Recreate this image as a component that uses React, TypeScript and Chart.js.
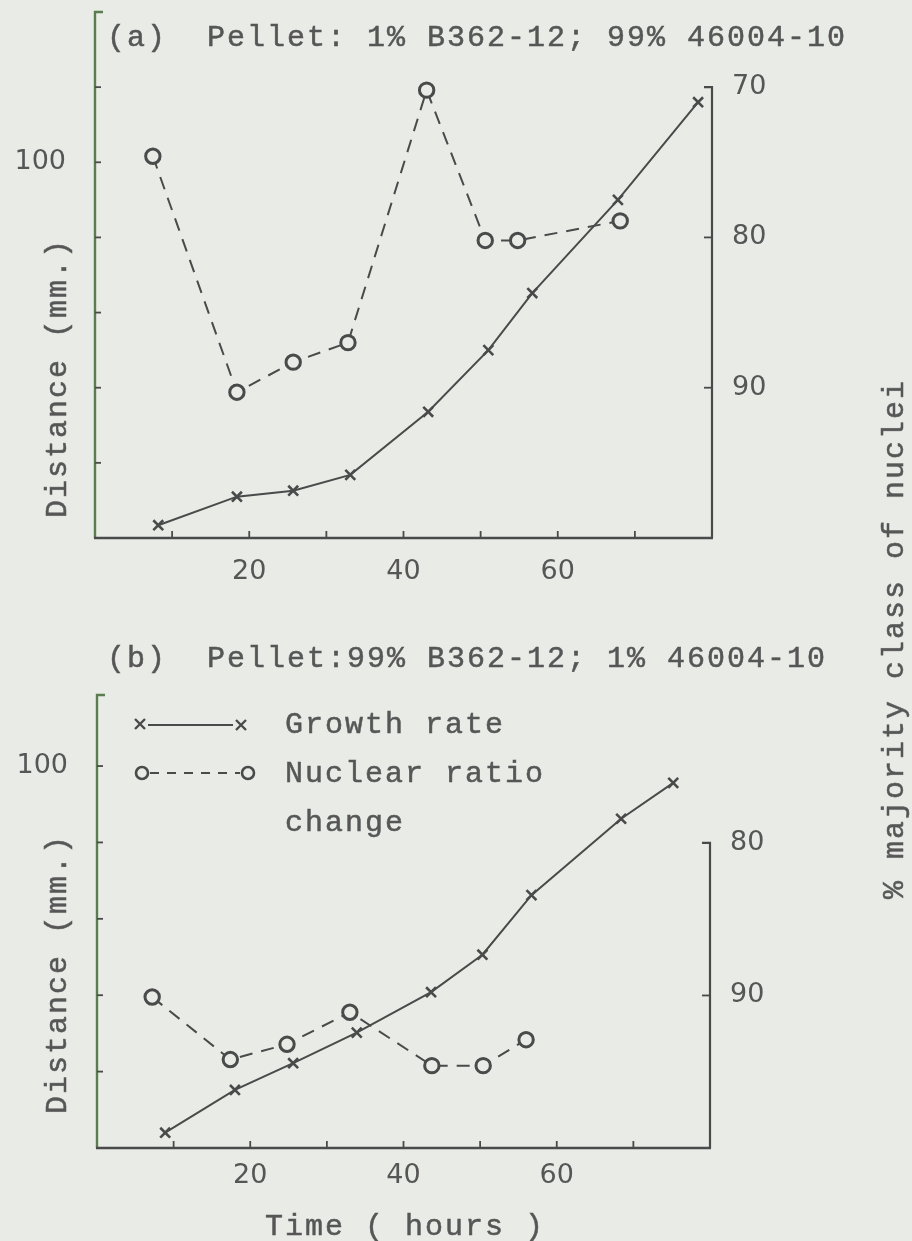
import React, { useEffect, useRef } from 'react';
import { Chart, registerables } from 'chart.js';

Chart.register(...registerables);

// ---- colours & fonts -------------------------------------------------------
const PAPER = '#e9ebe7';
const INK = '#4a4a4a';
const TEXT = '#565656';
const AXIS_GREEN = '#5a7d4f';
const TYPE_FONT = '"Liberation Mono", "DejaVu Sans Mono", monospace';
const TICK_FONT = '"DejaVu Sans", "Open Sans", sans-serif';

// ---- panel (a): pellet 1% B362-12 / 99% 46004-10 ----------------------------
const growthHoursA = [8.2, 18.4, 25.7, 33.1, 43.2, 51.0, 56.7, 67.8, 78.2];
const growthDistA = [51.7, 55.5, 56.3, 58.4, 66.8, 75.0, 82.6, 95.0, 108.0];
const nuclearHoursA = [7.5, 18.4, 25.7, 32.8, 43.0, 50.6, 54.8, 68.1];
const nuclearPctA = [74.6, 90.3, 88.3, 87.0, 70.2, 80.2, 80.2, 78.9];

// ---- panel (b): pellet 99% B362-12 / 1% 46004-10 ----------------------------
const growthHoursB = [8.9, 18.0, 25.6, 33.9, 43.6, 50.3, 56.7, 68.4, 75.2];
const growthDistB = [52.0, 57.6, 61.1, 65.1, 70.4, 75.3, 83.1, 93.1, 97.8];
const nuclearHoursB = [7.2, 17.4, 24.8, 33.0, 43.7, 50.4, 56.0];
const nuclearPctB = [90.1, 94.2, 93.2, 91.1, 94.6, 94.6, 92.9];

// ---- axis ticks ----------------------------------------------------------------
const timeTickLabels = [20, 40, 60];
const timeTickMarks = [10, 20, 30, 40, 50, 60, 70];
const distanceTickLabels = [100];
const distanceTickMarksA = [60, 70, 80, 90, 100, 110];
const distanceTickMarksB = [60, 70, 80, 90, 100];
const pctTickLabelsA = [70, 80, 90];
const pctTickLabelsB = [80, 90];

type PanelCfg = {
  pageTop: number;
  w: number;
  h: number;
  left: number;
  right: number;
  top: number;
  bottom: number;
  distMax: number;
  pctMin: number;
  pctTicks: number[];
  distMarks: number[];
  xPad: number;
  growthHours: number[];
  growthDist: number[];
  nuclearHours: number[];
  nuclearPct: number[];
  legend: boolean;
};

const panelA: PanelCfg = {
  pageTop: 0, w: 912, h: 600,
  left: 95, right: 712, top: 12, bottom: 538,
  distMax: 120, pctMin: 65, pctTicks: pctTickLabelsA, distMarks: distanceTickMarksA,
  xPad: 18,
  growthHours: growthHoursA, growthDist: growthDistA,
  nuclearHours: nuclearHoursA, nuclearPct: nuclearPctA,
  legend: false,
};

const panelB: PanelCfg = {
  pageTop: 600, w: 912, h: 641,
  left: 97, right: 710, top: 95, bottom: 548,
  distMax: 109.3, pctMin: 70.3, pctTicks: pctTickLabelsB, distMarks: distanceTickMarksB,
  xPad: 12,
  growthHours: growthHoursB, growthDist: growthDistB,
  nuclearHours: nuclearHoursB, nuclearPct: nuclearPctB,
  legend: true,
};

function drawCross(ctx: CanvasRenderingContext2D, x: number, y: number, r: number) {
  ctx.beginPath();
  ctx.moveTo(x - r, y - r);
  ctx.lineTo(x + r, y + r);
  ctx.moveTo(x + r, y - r);
  ctx.lineTo(x - r, y + r);
  ctx.stroke();
}

function drawRing(ctx: CanvasRenderingContext2D, x: number, y: number, r: number) {
  ctx.beginPath();
  ctx.arc(x, y, r, 0, Math.PI * 2);
  ctx.fillStyle = PAPER;
  ctx.fill();
  ctx.stroke();
}

// Hand-ruled axes: bracketed left axis, inward tick marks, short right axis.
const paperAxes = {
  id: 'paperAxes',
  beforeDatasetsDraw(chart: any, _args: any, opts: any) {
    const { ctx, chartArea, scales } = chart;
    const { left, right, top, bottom } = chartArea;
    const x = scales.x;
    const yL = scales.yL;
    const yR = scales.yR;
    ctx.save();
    ctx.lineCap = 'butt';

    // left axis with its top bracket
    ctx.strokeStyle = AXIS_GREEN;
    ctx.lineWidth = 2.4;
    ctx.beginPath();
    ctx.moveTo(left + 8, top);
    ctx.lineTo(left, top);
    ctx.lineTo(left, bottom);
    ctx.stroke();

    ctx.strokeStyle = INK;
    ctx.lineWidth = 1.8;
    for (const v of opts.distMarks) {
      const py = yL.getPixelForValue(v);
      ctx.beginPath();
      ctx.moveTo(left, py);
      ctx.lineTo(left + 6, py);
      ctx.stroke();
    }

    // time axis
    ctx.lineWidth = 2.4;
    ctx.beginPath();
    ctx.moveTo(left - 1, bottom);
    ctx.lineTo(right + 1, bottom);
    ctx.stroke();
    ctx.lineWidth = 1.8;
    for (const v of timeTickMarks) {
      const px = x.getPixelForValue(v);
      ctx.beginPath();
      ctx.moveTo(px, bottom);
      ctx.lineTo(px, bottom - 7);
      ctx.stroke();
    }

    // right axis starts at its first labelled value
    const ticks: number[] = opts.pctTicks;
    const rTop = yR.getPixelForValue(ticks[0]);
    ctx.lineWidth = 2.2;
    ctx.beginPath();
    ctx.moveTo(right - 8, rTop);
    ctx.lineTo(right, rTop);
    ctx.lineTo(right, bottom);
    ctx.stroke();
    ctx.lineWidth = 1.8;
    for (const v of ticks.slice(1)) {
      const py = yR.getPixelForValue(v);
      ctx.beginPath();
      ctx.moveTo(right - 8, py);
      ctx.lineTo(right, py);
      ctx.stroke();
    }
    ctx.restore();
  },
  afterDatasetsDraw(chart: any, _args: any, opts: any) {
    if (!opts.legend) return;
    const { ctx } = chart;
    ctx.save();
    ctx.strokeStyle = INK;
    // growth rate key
    ctx.lineWidth = 2;
    ctx.beginPath();
    ctx.moveTo(148, 125);
    ctx.lineTo(233, 125);
    ctx.stroke();
    ctx.lineWidth = 2.4;
    drawCross(ctx, 140, 124, 5);
    drawCross(ctx, 241, 125, 5);
    // nuclear ratio key
    ctx.lineWidth = 2;
    ctx.setLineDash([9, 8]);
    ctx.beginPath();
    ctx.moveTo(150, 173);
    ctx.lineTo(240, 173);
    ctx.stroke();
    ctx.setLineDash([]);
    ctx.lineWidth = 2.6;
    drawRing(ctx, 142, 173, 6);
    drawRing(ctx, 248, 173, 6);
    ctx.restore();
  },
};

// Fixed axis boxes so the plot area lands on the ruled frame.
function pinScale(s: any, size: number, horizontal: boolean) {
  if (horizontal) s.height = size;
  else s.width = size;
  s.paddingTop = 0;
  s.paddingBottom = 0;
  s.paddingLeft = 0;
  s.paddingRight = 0;
}

function Panel({ cfg }: { cfg: PanelCfg }) {
  const ref = useRef<HTMLCanvasElement>(null);
  useEffect(() => {
    if (!ref.current) return;
    const tickFont = { family: TICK_FONT, size: 27 };
    const chart = new Chart(ref.current, {
      type: 'line',
      data: {
        datasets: [
          {
            label: 'Growth rate',
            data: cfg.growthHours.map((h, i) => ({ x: h, y: cfg.growthDist[i] })),
            yAxisID: 'yL',
            borderColor: INK,
            borderWidth: 2,
            pointStyle: 'crossRot',
            pointRadius: 7,
            pointBorderWidth: 2.6,
            pointBorderColor: INK,
            pointBackgroundColor: INK,
            clip: false,
          },
          {
            label: 'Nuclear ratio change',
            data: cfg.nuclearHours.map((h, i) => ({ x: h, y: cfg.nuclearPct[i] })),
            yAxisID: 'yR',
            borderColor: INK,
            borderWidth: 2,
            borderDash: [13, 9],
            pointStyle: 'circle',
            pointRadius: 7.2,
            pointBorderWidth: 3,
            pointBorderColor: INK,
            pointBackgroundColor: PAPER,
            clip: false,
          },
        ],
      },
      options: {
        responsive: false,
        animation: false,
        events: [],
        layout: { padding: { top: cfg.top, left: 0, right: 0, bottom: 0 }, autoPadding: false },
        plugins: {
          legend: { display: false },
          title: { display: false },
          tooltip: { enabled: false },
          paperAxes: { distMarks: cfg.distMarks, pctTicks: cfg.pctTicks, legend: cfg.legend },
        } as any,
        scales: {
          x: {
            type: 'linear',
            position: 'bottom',
            min: 0,
            max: 80,
            afterBuildTicks: (s: any) => { s.ticks = timeTickLabels.map((v) => ({ value: v })); },
            afterFit: (s: any) => pinScale(s, cfg.h - cfg.bottom, true),
            grid: { display: false, drawTicks: false },
            border: { display: false },
            ticks: { padding: cfg.xPad, font: tickFont, color: TEXT, autoSkip: false, maxRotation: 0 },
          },
          yL: {
            type: 'linear',
            position: 'left',
            min: 50,
            max: cfg.distMax,
            afterBuildTicks: (s: any) => { s.ticks = distanceTickLabels.map((v) => ({ value: v })); },
            afterFit: (s: any) => pinScale(s, cfg.left, false),
            grid: { display: false, drawTicks: false },
            border: { display: false },
            ticks: { padding: 29, font: tickFont, color: TEXT },
          },
          yR: {
            type: 'linear',
            position: 'right',
            reverse: true,
            min: cfg.pctMin,
            max: 100,
            afterBuildTicks: (s: any) => { s.ticks = cfg.pctTicks.map((v) => ({ value: v })); },
            afterFit: (s: any) => pinScale(s, cfg.w - cfg.right, false),
            grid: { display: false, drawTicks: false },
            border: { display: false },
            ticks: { padding: 20, font: tickFont, color: TEXT },
          },
        },
      } as any,
      plugins: [paperAxes],
    });
    return () => chart.destroy();
  }, [cfg]);
  return (
    <canvas
      ref={ref}
      width={cfg.w}
      height={cfg.h}
      style={{ position: 'absolute', left: 0, top: cfg.pageTop, width: cfg.w, height: cfg.h }}
    />
  );
}

const typed: React.CSSProperties = {
  position: 'absolute',
  font: `30px ${TYPE_FONT}`,
  lineHeight: '30px',
  letterSpacing: '2px',
  color: TEXT,
  whiteSpace: 'pre',
  WebkitTextStroke: `0.5px ${TEXT}`,
};

// x = left edge of the text, y = vertical centre of capitals
function Typed({ x, y, children }: { x: number; y: number; children: string }) {
  return <div style={{ ...typed, left: x, top: y - 13 }}>{children}</div>;
}

function TypedVertical({ cx, cy, children }: { cx: number; cy: number; children: string }) {
  return (
    <div style={{ ...typed, left: cx, top: cy, transform: 'translate(-50%, -50%) rotate(-90deg)' }}>
      {children}
    </div>
  );
}

export default function App() {
  return (
    <div
      style={{
        position: 'fixed',
        left: 0,
        top: 0,
        width: 912,
        height: 1241,
        background: PAPER,
        overflow: 'hidden',
      }}
    >
      <Panel cfg={panelA} />
      <Panel cfg={panelB} />
      <Typed x={107} y={36}>{'(a)  Pellet: 1% B362-12; 99% 46004-10'}</Typed>
      <Typed x={107} y={657}>{'(b)  Pellet:99% B362-12; 1% 46004-10'}</Typed>
      <Typed x={285} y={723}>Growth rate</Typed>
      <Typed x={285} y={772}>Nuclear ratio</Typed>
      <Typed x={285} y={821}>change</Typed>
      <Typed x={265} y={1225}>{'Time ( hours )'}</Typed>
      <TypedVertical cx={58} cy={378}>{'Distance (mm.)'}</TypedVertical>
      <TypedVertical cx={58} cy={974}>{'Distance (mm.)'}</TypedVertical>
      <TypedVertical cx={895} cy={639}>{'% majority class of nuclei'}</TypedVertical>
    </div>
  );
}
